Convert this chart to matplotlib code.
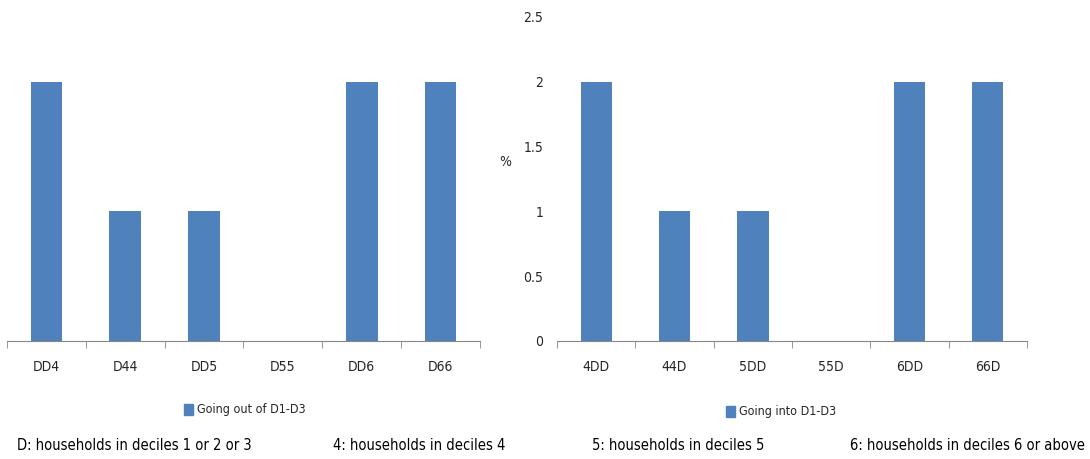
import matplotlib
matplotlib.use('Agg')
import matplotlib.pyplot as plt
from matplotlib.patches import Patch

# Data ================================================================
cats_out=['DD4','D44','DD5','D55','DD6','D66']
vals_out=[2,1,1,0,2,2]
cats_in=['4DD','44D','5DD','55D','6DD','66D']
vals_in=[2,1,1,0,2,2]
yticks=[0,0.5,1,1.5,2,2.5]
ytick_labels=['0','0.5','1','1.5','2','2.5']
leg_out='Going out of D1-D3'
leg_in='Going into D1-D3'
notes=['D: households in deciles 1 or 2 or 3',
       '4: households in deciles 4',
       '5: households in deciles 5',
       '6: households in deciles 6 or above']

# Condensed face, closer to the narrow original
plt.rcParams['font.family']=['DejaVu Sans']
plt.rcParams['font.stretch']='condensed'

bar_col='#4F81BD'
ax_col='#868686'
txt_col='#262626'
fs=10


def panel(ax,cats,vals,show_y):
    x=list(range(len(cats)))
    ax.bar(x,vals,width=0.4,color=bar_col,zorder=2)
    ax.set_xlim(-0.5,len(cats)-0.5)
    ax.set_ylim(0,2.5)
    ax.set_xticks(x)
    ax.set_xticklabels(cats,fontsize=fs,color=txt_col)
    ax.set_xticks([i-0.5 for i in range(len(cats)+1)],minor=True)
    ax.tick_params(axis='x',which='major',length=0,pad=14)
    ax.tick_params(axis='x',which='minor',length=5,color=ax_col,direction='out')
    for s in ['top','right','left']:
        ax.spines[s].set_visible(False)
    ax.spines['bottom'].set_color(ax_col)
    if show_y:
        ax.set_yticks(yticks)
        ax.set_yticklabels(ytick_labels,fontsize=fs,color=txt_col)
        ax.tick_params(axis='y',length=0,pad=10)
    else:
        ax.set_yticks([])


fig=plt.figure(figsize=(10.9,4.59),dpi=100)
ax1=fig.add_axes([7/1090,118/459,473/1090,324/459])
ax2=fig.add_axes([557/1090,118/459,470/1090,324/459])
panel(ax1,cats_out,vals_out,False)
panel(ax2,cats_in,vals_in,True)
ax2.set_ylabel('%',fontsize=fs,color=txt_col,rotation=0)
ax2.yaxis.set_label_coords(-0.11,0.53)

# Legends
for lab,cx,cy in [(leg_out,245,410),(leg_in,781,412)]:
    fig.legend(handles=[Patch(color=bar_col,label=lab)],loc='center',
               bbox_to_anchor=(cx/1090,1-cy/459),frameon=False,fontsize=9,
               handlelength=0.7,handleheight=1.0,handletextpad=0.3,labelcolor=txt_col)

# Footnotes
xs=[17,333,592,850]
for xp,t in zip(xs,notes):
    fig.text(xp/1090,1-446/459,t,fontsize=10.5,color='black',va='center',ha='left')

plt.savefig('out.png',dpi=100)
plt.close('all')
